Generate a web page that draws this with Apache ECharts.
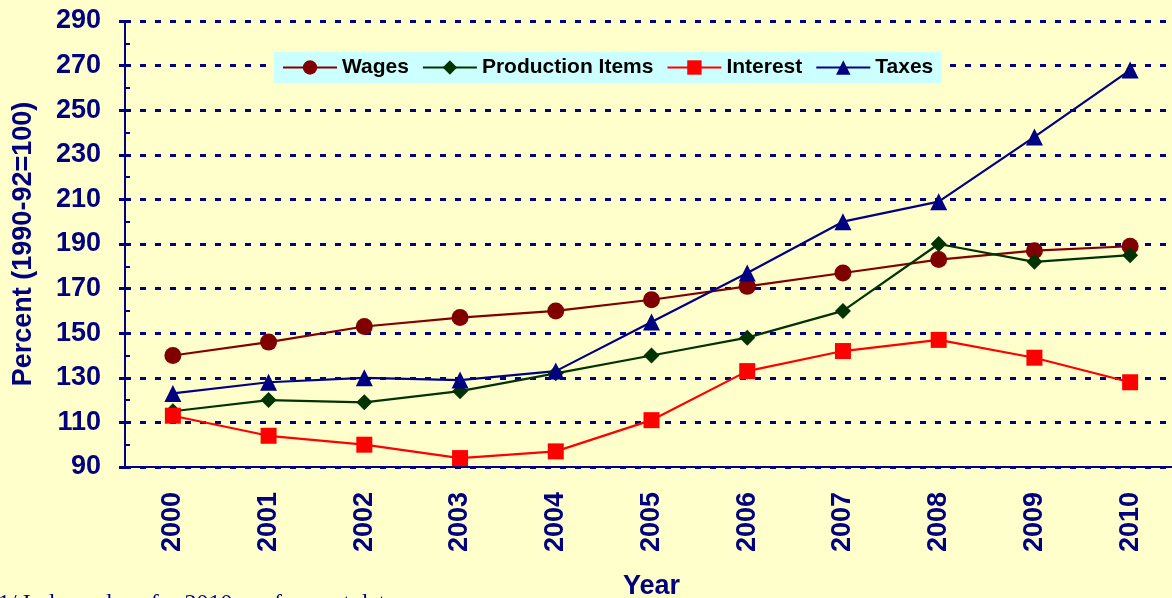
<!doctype html>
<html>
    <head>
        <meta charset="utf-8">
        <title>Index of prices paid</title>
        <style>
            html, body { margin: 0; padding: 0; background: #FFFFCC; }
            #main { width: 1172px; height: 598px; }
        </style>
    </head>
    <body>
        <div id="main"></div>
        <script src="https://cdn.jsdelivr.net/npm/echarts@6/dist/echarts.min.js"></script>
        <script>
            var years = ['2000', '2001', '2002', '2003', '2004', '2005', '2006', '2007', '2008', '2009', '2010'];
            var wages = [140, 146, 153, 157, 160, 165, 171, 177, 183, 187, 189];
            var production = [115, 120, 119, 124, 132, 140, 148, 160, 190, 182, 185];
            var interest = [113, 104, 100, 94, 97, 111, 133, 142, 147, 139, 128];
            var taxes = [123, 128, 130, 129, 133, 155, 177, 200, 209, 238, 268];

            var navy = '#000080';
            var font = 'Arial, "Liberation Sans", sans-serif';

            function line(name, data, color, symbol, size) {
                return {
                    name: name,
                    type: 'line',
                    data: data,
                    symbol: symbol,
                    symbolSize: size,
                    lineStyle: { color: color, width: 2.2 },
                    itemStyle: { color: color },
                    emphasis: { disabled: true },
                    z: 3
                };
            }

            var chart = echarts.init(document.getElementById('main'));
            chart.setOption({
                backgroundColor: '#FFFFCC',
                animation: false,
                textStyle: { fontFamily: font },
                grid: { left: 125, top: 21, width: 1053, height: 446, containLabel: false, outerBoundsMode: 'none' },
                legend: {
                    left: 274,
                    top: 52,
                    padding: [5, 8, 5, 8],
                    itemWidth: 54,
                    itemHeight: 18,
                    itemGap: 13,
                    backgroundColor: '#CCFFFF',
                    textStyle: { color: '#000', fontWeight: 'bold', fontSize: 21, fontFamily: font },
                    data: ['Wages', 'Production Items', 'Interest', 'Taxes']
                },
                xAxis: [{
                    type: 'category',
                    data: years,
                    boundaryGap: true,
                    name: 'Year',
                    nameLocation: 'middle',
                    nameGap: 106,
                    nameTextStyle: { color: navy, fontWeight: 'bold', fontSize: 27 },
                    axisLine: { lineStyle: { color: navy, width: 2 } },
                    axisTick: { length: 8, lineStyle: { color: navy, width: 2 } },
                    axisLabel: { rotate: 90, margin: 25, color: navy, fontWeight: 'bold', fontSize: 27 },
                    splitLine: { show: false }
                }, {
                    type: 'category',
                    data: years,
                    position: 'bottom',
                    axisLine: { show: false },
                    axisTick: { inside: true, alignWithLabel: true, length: 5, lineStyle: { color: navy, width: 2 } },
                    axisLabel: { show: false },
                    splitLine: { show: false }
                }],
                yAxis: [{
                    type: 'value',
                    min: 90,
                    max: 290,
                    interval: 20,
                    name: 'Percent (1990-92=100)',
                    nameLocation: 'middle',
                    nameGap: 88,
                    nameTextStyle: { color: navy, fontWeight: 'bold', fontSize: 27 },
                    axisLine: { show: true, lineStyle: { color: navy, width: 2 } },
                    axisTick: { show: true, length: 6, lineStyle: { color: navy, width: 3 } },
                    axisLabel: { margin: 24, color: navy, fontWeight: 'bold', fontSize: 27 },
                    splitLine: { show: true, lineStyle: { color: navy, width: 3, type: [6, 9] } }
                }, {
                    type: 'value',
                    min: 90,
                    max: 290,
                    interval: 10,
                    position: 'left',
                    axisLine: { show: false },
                    axisTick: { show: true, inside: true, length: 5, lineStyle: { color: navy, width: 2 } },
                    axisLabel: { show: false },
                    splitLine: { show: false }
                }],
                graphic: [{
                    type: 'text',
                    left: -2,
                    top: 592,
                    style: {
                        text: '1/ Index values for 2010 are forecast data',
                        fill: navy,
                        font: '24px "Liberation Serif", "Times New Roman", serif'
                    }
                }],
                series: [
                    line('Wages', wages, '#800000', 'circle', 17),
                    line('Production Items', production, '#003300', 'diamond', 16),
                    line('Interest', interest, '#FF0000', 'rect', 16),
                    line('Taxes', taxes, '#000080', 'triangle', 17)
                ]
            });
        </script>
    </body>
</html>
